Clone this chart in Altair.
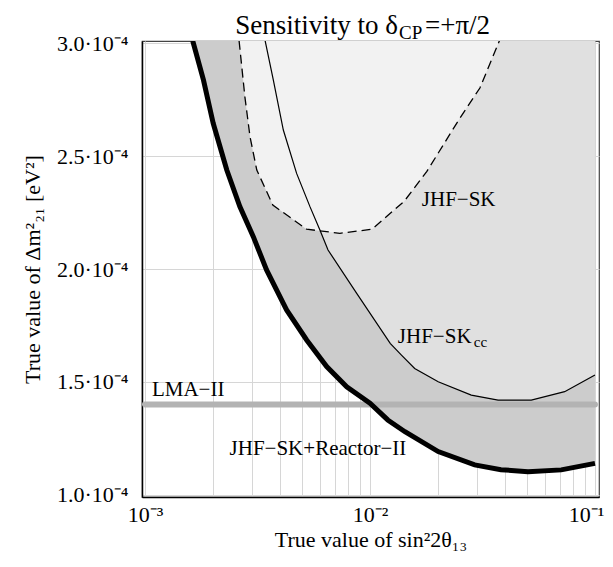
import altair as alt
import pandas as pd

# ---- data (x = sin^2 2theta13, y = Delta m^2_21 in 1e-4 eV^2) ----
thick_x = [1.63e-3, 1.82e-3, 2.01e-3, 2.31e-3, 2.64e-3, 3.03e-3, 3.47e-3, 4.26e-3, 5.23e-3,
           6.42e-3, 7.88e-3, 1.0e-2, 1.2e-2, 1.43e-2, 2.01e-2, 2.92e-2, 3.82e-2, 5.04e-2,
           7.08e-2, 1.0e-1]
thick_y = [3.01, 2.836, 2.645, 2.438, 2.276, 2.143, 1.996, 1.819, 1.686,
           1.568, 1.479, 1.406, 1.332, 1.28, 1.192, 1.133, 1.112, 1.103,
           1.111, 1.14]

thin_x = [3.42e-3, 3.72e-3, 4.12e-3, 4.72e-3, 5.41e-3, 5.99e-3, 6.51e-3, 8.73e-3, 1.23e-2,
          1.38e-2, 1.58e-2, 2.01e-2, 2.82e-2, 3.71e-2, 5.21e-2, 7.33e-2, 1.0e-1]
thin_y = [3.01, 2.836, 2.615, 2.423, 2.276, 2.173, 2.084, 1.892, 1.671,
          1.619, 1.56, 1.501, 1.442, 1.420, 1.420, 1.457, 1.531]

dash_x = [2.62e-3, 2.78e-3, 2.93e-3, 3.14e-3, 3.70e-3, 5.23e-3, 7.35e-3, 1.02e-2, 1.42e-2,
          1.79e-2, 2.12e-2, 2.51e-2, 3.08e-2, 3.76e-2]
dash_y = [3.01, 2.762, 2.585, 2.438, 2.283, 2.176, 2.158, 2.176, 2.30,
          2.432, 2.55, 2.668, 2.801, 3.01]

lma_x = [1.0e-3, 1.0e-1]
lma_y = [1.4, 1.4]

x_domain = [9.7e-4, 1.042e-1]
y_domain = [0.991, 3.009]

x_grid = [0.001, 0.002, 0.003, 0.004, 0.005, 0.006, 0.007, 0.008, 0.009,
          0.01, 0.02, 0.03, 0.04, 0.05, 0.06, 0.07, 0.08, 0.09, 0.1]
y_ticks = [1.0, 1.5, 2.0, 2.5, 3.0]

labels_text = ["JHF\u2212SK", "JHF\u2212SK", "LMA\u2212II", "JHF\u2212SK+Reactor\u2212II"]
labels_x = [1.70e-2, 1.33e-2, 1.074e-3, 5.87e-3]
labels_y = [2.305, 1.699, 1.465, 1.204]

FONT = "Liberation Serif"

xs = alt.Scale(type="log", domain=x_domain, nice=False)
ys = alt.Scale(domain=y_domain, nice=False, zero=False)

x_axis = alt.Axis(values=x_grid, title="True value of sin\u00b22\u03b8\u2081\u2083",
                  labelExpr="datum.value == 0.001 ? '10\u207b\u00b3' : datum.value == 0.01 ? '10\u207b\u00b2' : datum.value == 0.1 ? '10\u207b\u00b9' : ''",
                  labelOffset={"condition": {"test": "datum.value == 0.1", "value": -9}, "value": 0},
                  grid=True, ticks=False, labelFlush=False, labelOverlap=False,
                  labelPadding=7, titlePadding=4)
y_axis = alt.Axis(values=y_ticks, title="True value of \u0394m\u00b2\u2082\u2081 [eV\u00b2]",
                  labelExpr="format(datum.value, '.1f') + '\u00b710\u207b\u2074'",
                  grid=True, ticks=False, labelFlush=False, labelOverlap=False,
                  labelPadding=14, titlePadding=12)


def curve_df(xv, yv):
    return pd.DataFrame({"x": xv, "y": yv})


d_thick = curve_df(thick_x, thick_y)
d_thin = curve_df(thin_x, thin_y)
d_dash = curve_df(dash_x, dash_y)
d_lma = curve_df(lma_x, lma_y)

base_axes = alt.Chart(d_thick).mark_area(color="#cccccc", clip=True).encode(
    x=alt.X("x:Q", scale=xs, axis=x_axis),
    y=alt.Y("y:Q", scale=ys, axis=y_axis),
    y2=alt.datum(y_domain[1]),
)


def fill(df, color):
    return alt.Chart(df).mark_area(color=color, clip=True).encode(
        x=alt.X("x:Q", scale=xs), y=alt.Y("y:Q", scale=ys), y2=alt.datum(y_domain[1]))


def line(df, color, width, dash=None, cap="butt"):
    kw = dict(color=color, strokeWidth=width, clip=True, strokeCap=cap)
    if dash:
        kw["strokeDash"] = dash
    return alt.Chart(df).mark_line(**kw).encode(
        x=alt.X("x:Q", scale=xs), y=alt.Y("y:Q", scale=ys))


fill_thin = fill(d_thin, "#e0e0e0")
fill_dash = fill(d_dash, "#f2f2f2")
lma = line(d_lma, "#b3b3b3", 6, cap="round")
l_thin = line(d_thin, "black", 1.2)
l_dash = line(d_dash, "black", 1.3, dash=[9, 5])
l_thick = line(d_thick, "black", 5)

lab_df = pd.DataFrame({"t": labels_text, "x": labels_x, "y": labels_y})
labels = alt.Chart(lab_df.iloc[[0, 1, 2]]).mark_text(
    font=FONT, fontSize=21, align="left", baseline="middle", color="black").encode(
    x=alt.X("x:Q", scale=xs), y=alt.Y("y:Q", scale=ys), text="t:N")
label_reac = alt.Chart(lab_df.iloc[[3]]).mark_text(
    font=FONT, fontSize=21, align="center", baseline="middle", color="black").encode(
    x=alt.X("x:Q", scale=xs), y=alt.Y("y:Q", scale=ys), text="t:N")
cc_df = pd.DataFrame({"t": ["cc"], "x": [labels_x[1]], "y": [labels_y[1]]})
label_cc = alt.Chart(cc_df).mark_text(
    font=FONT, fontSize=15, align="left", baseline="middle", color="black", dx=76, dy=5).encode(
    x=alt.X("x:Q", scale=xs), y=alt.Y("y:Q", scale=ys), text="t:N")

# title pieces, anchored above the frame at the centre of the x range
title_parts = ["Sensitivity to \u03b4", "CP", "=+\u03c0/2"]
title_x = 1.0e-2
title_y = 3.042
t1 = alt.Chart(pd.DataFrame({"t": [title_parts[0]], "x": [title_x], "y": [title_y]})).mark_text(
    font=FONT, fontSize=27, align="right", baseline="alphabetic", dx=28).encode(
    x=alt.X("x:Q", scale=xs), y=alt.Y("y:Q", scale=ys), text="t:N")
t2 = alt.Chart(pd.DataFrame({"t": [title_parts[1]], "x": [title_x], "y": [title_y]})).mark_text(
    font=FONT, fontSize=19, align="left", baseline="alphabetic", dx=29, dy=5).encode(
    x=alt.X("x:Q", scale=xs), y=alt.Y("y:Q", scale=ys), text="t:N")
t3 = alt.Chart(pd.DataFrame({"t": [title_parts[2]], "x": [title_x], "y": [title_y]})).mark_text(
    font=FONT, fontSize=27, align="left", baseline="alphabetic", dx=55).encode(
    x=alt.X("x:Q", scale=xs), y=alt.Y("y:Q", scale=ys), text="t:N")

chart = alt.layer(
    base_axes, fill_thin, fill_dash, lma, l_thin, l_dash, l_thick,
    labels, label_reac, label_cc, t1, t2, t3
).properties(
    width=457, height=456,
    autosize=alt.AutoSizeParams(type="none"),
    padding={"left": 134, "top": 33, "right": 6, "bottom": 62},
).configure_view(
    stroke="#444444", strokeWidth=1.2
).configure_axis(
    labelFont=FONT, titleFont=FONT, labelFontSize=22, titleFontSize=22,
    labelColor="black", titleColor="black", titleFontWeight="normal",
    gridColor="#d6d6d6", gridWidth=1, domainColor="black", domainWidth=1.5,
)

chart.save("out.html", embed_options={"renderer": "svg", "actions": False})
